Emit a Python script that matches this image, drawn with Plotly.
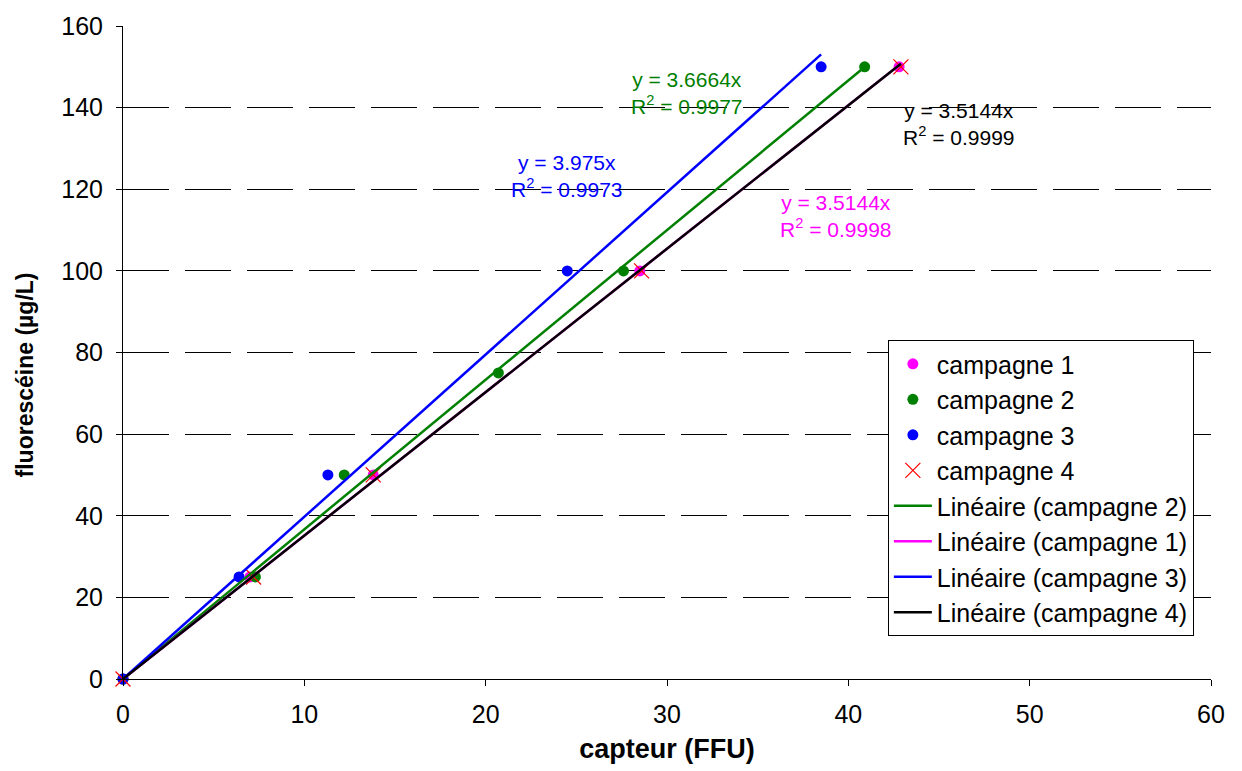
import plotly.graph_objects as go

# ---- data ----
c1_x = [0, 7.0, 13.8, 28.5, 42.8]
c1_y = [0, 25, 50, 100, 150]
c2_x = [0, 7.3, 12.2, 20.7, 27.6, 40.9]
c2_y = [0, 25, 50, 75, 100, 150]
c3_x = [0, 6.4, 11.3, 24.5, 38.5]
c3_y = [0, 25, 50, 100, 150]
c4_x = [0, 7.2, 13.8, 28.6, 42.9]
c4_y = [0, 25, 50, 100, 150]

slopes = {"campagne 1": 3.5144, "campagne 2": 3.6664, "campagne 3": 3.975, "campagne 4": 3.5144}
r2 = {"campagne 1": 0.9998, "campagne 2": 0.9977, "campagne 3": 0.9973, "campagne 4": 0.9999}

colors = {"campagne 1": "#FF00FF", "campagne 2": "#008000", "campagne 3": "#0000FF", "campagne 4": "#000000"}
series = {"campagne 1": (c1_x, c1_y), "campagne 2": (c2_x, c2_y),
          "campagne 3": (c3_x, c3_y), "campagne 4": (c4_x, c4_y)}

FONT = "Liberation Sans, Arial, sans-serif"

fig = go.Figure()

# marker series
for name in ["campagne 1", "campagne 2", "campagne 3"]:
    xs, ys = series[name]
    fig.add_trace(go.Scatter(x=xs, y=ys, mode="markers", name=name,
                             marker=dict(symbol="circle", size=11, color=colors[name]),
                             cliponaxis=False))
fig.add_trace(go.Scatter(x=c4_x, y=c4_y, mode="markers", name="campagne 4",
                         marker=dict(symbol="x-thin-open", size=15, color="#FF0000",
                                     line=dict(color="#FF0000", width=1.2)),
                         cliponaxis=False))

# linear trendlines (through origin)
for name in ["campagne 2", "campagne 1", "campagne 3", "campagne 4"]:
    xs, ys = series[name]
    xl = [0, max(xs)]
    yl = [slopes[name] * v for v in xl]
    fig.add_trace(go.Scatter(x=xl, y=yl, mode="lines", name=f"Linéaire ({name})",
                             line=dict(color=colors[name], width=2.5), cliponaxis=False))

# equation labels
ann_pos = {"campagne 2": (31.1, 143.5, "#008000"),
           "campagne 4": (46.1, 136.0, "#000000"),
           "campagne 3": (24.5, 123.3, "#0000FF"),
           "campagne 1": (39.3, 113.4, "#FF00FF")}
for name, (ax, ay, col) in ann_pos.items():
    fig.add_annotation(x=ax, y=ay, xref="x", yref="y", showarrow=False,
                       text=f"y = {slopes[name]}x<br>R<sup>2</sup> = {r2[name]:.4f}",
                       font=dict(family=FONT, size=21, color=col), align="center")

# y-axis title (placed as rotated annotation)
fig.add_annotation(x=-0.09, y=0.465, xref="paper", yref="paper", showarrow=False,
                   text="<b>fluorescéine (µg/L)</b>", textangle=-90,
                   font=dict(family=FONT, size=23, color="black"),
                   xanchor="center", yanchor="middle")

fig.update_layout(
    width=1242, height=771,
    paper_bgcolor="white", plot_bgcolor="white",
    margin=dict(l=123, r=31, t=22, b=90),
    font=dict(family=FONT, size=22, color="black"),
    showlegend=True,
    legend=dict(x=0.703, y=0.519, xanchor="left", yanchor="top",
                bgcolor="white", bordercolor="black", borderwidth=1,
                font=dict(family=FONT, size=25, color="black"),
                tracegroupgap=0, itemwidth=38),
)
fig.update_xaxes(range=[0, 60], dtick=10, showline=True, linecolor="black", linewidth=1,
                 ticks="outside", ticklen=6, tickcolor="black", showgrid=False, zeroline=False,
                 tickfont=dict(size=25), ticklabelstandoff=7,
                 title=dict(text="<b>capteur (FFU)</b>", font=dict(size=27), standoff=12))
fig.update_yaxes(range=[0, 160], dtick=20, showline=True, linecolor="black", linewidth=1,
                 ticks="outside", ticklen=6, tickcolor="black", zeroline=False,
                 showgrid=True, gridcolor="black", gridwidth=1, griddash="46px,16px",
                 tickfont=dict(size=25), ticklabelstandoff=8)

fig.write_html("out.html")
